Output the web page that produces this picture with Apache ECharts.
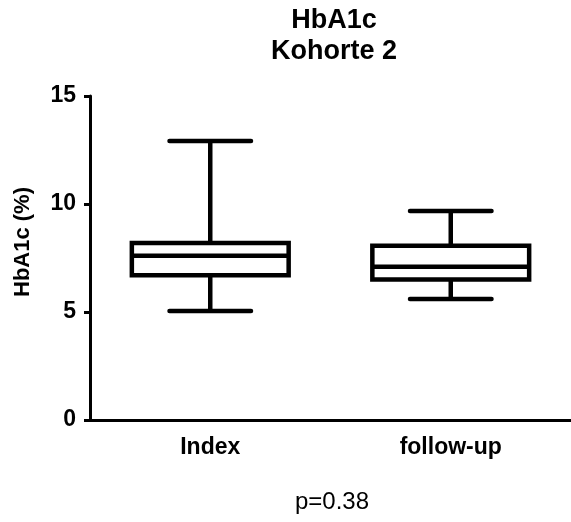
<!DOCTYPE html>
<html>
<head>
<meta charset="utf-8">
<script src="https://cdn.jsdelivr.net/npm/echarts@6/dist/echarts.min.js"></script>
<style>html,body{margin:0;padding:0;background:#fff}#c{width:571px;height:522px}</style>
</head>
<body>
<div id="c"></div>
<script>
var categories = ['Index', 'follow-up'];
var whiskerLow = [5.05, 5.6];
var q1 = [6.7, 6.5];
var median = [7.6, 7.1];
var q3 = [8.2, 8.07];
var whiskerHigh = [12.92, 9.68];
var yTicks = [0, 5, 10, 15];
var titleText = 'HbA1c\nKohorte 2';
var yName = 'HbA1c (%)';
var pText = 'p=0.38';

var FONT = '"Liberation Sans", Arial, sans-serif';
var data = categories.map(function (c, i) {
  return [i, whiskerLow[i], q1[i], median[i], q3[i], whiskerHigh[i]];
});

var chart = echarts.init(document.getElementById('c'));
chart.setOption({
  animation: false,
  backgroundColor: '#fff',
  grid: { left: 90, top: 96, bottom: 102, right: -4, containLabel: false },
  xAxis: {
    type: 'category',
    data: categories,
    axisLine: { lineStyle: { color: '#000', width: 3 } },
    axisTick: { alignWithLabel: true, length: 6, lineStyle: { color: '#000', width: 3 } },
    axisLabel: { color: '#000', fontFamily: FONT, fontWeight: 'bold', fontSize: 23, margin: 16 }
  },
  yAxis: {
    type: 'value',
    min: yTicks[0], max: yTicks[yTicks.length - 1], interval: 5,
    splitLine: { show: false },
    axisLine: { show: true, lineStyle: { color: '#000', width: 3 } },
    axisTick: { show: true, length: 6, lineStyle: { color: '#000', width: 3 } },
    axisLabel: { color: '#000', fontFamily: FONT, fontWeight: 'bold', fontSize: 23, margin: 14 }
  },
  series: [{
    type: 'custom',
    data: data,
    renderItem: function (params, api) {
      var x = api.value(0);
      var band = api.size([1, 0])[0];
      var bw = band * 0.652;
      var cw = bw * 0.52;
      var pLow = api.coord([x, api.value(1)]);
      var pQ1 = api.coord([x, api.value(2)]);
      var pMed = api.coord([x, api.value(3)]);
      var pQ3 = api.coord([x, api.value(4)]);
      var pHigh = api.coord([x, api.value(5)]);
      var cx = pLow[0];
      var st = { stroke: '#000', lineWidth: 4.5, fill: null };
      var stR = { stroke: '#000', lineWidth: 4.5, lineCap: 'round' };
      return {
        type: 'group',
        children: [
          { type: 'line', shape: { x1: cx, y1: pHigh[1], x2: cx, y2: pQ3[1] }, style: st },
          { type: 'line', shape: { x1: cx, y1: pQ1[1], x2: cx, y2: pLow[1] }, style: st },
          { type: 'line', shape: { x1: cx - cw / 2, y1: pHigh[1], x2: cx + cw / 2, y2: pHigh[1] }, style: stR },
          { type: 'line', shape: { x1: cx - cw / 2, y1: pLow[1], x2: cx + cw / 2, y2: pLow[1] }, style: stR },
          { type: 'rect', shape: { x: cx - bw / 2, y: pQ3[1], width: bw, height: pQ1[1] - pQ3[1] }, style: { stroke: '#000', lineWidth: 4.5, fill: '#fff' } },
          { type: 'line', shape: { x1: cx - bw / 2, y1: pMed[1], x2: cx + bw / 2, y2: pMed[1] }, style: st }
        ]
      };
    }
  }],
  graphic: [
    { type: 'text', x: 334, y: 5, style: { text: titleText, fill: '#000', font: 'bold 27px ' + FONT, textAlign: 'center', textVerticalAlign: 'top', lineHeight: 31 } },
    { type: 'text', x: 23, y: 242, rotation: Math.PI / 2, style: { text: yName, fill: '#000', font: 'bold 22px ' + FONT, textAlign: 'center', textVerticalAlign: 'middle' } },
    { type: 'text', x: 332, y: 502, style: { text: pText, fill: '#000', font: '24px ' + FONT, textAlign: 'center', textVerticalAlign: 'middle' } }
  ]
});
</script>
</body>
</html>
